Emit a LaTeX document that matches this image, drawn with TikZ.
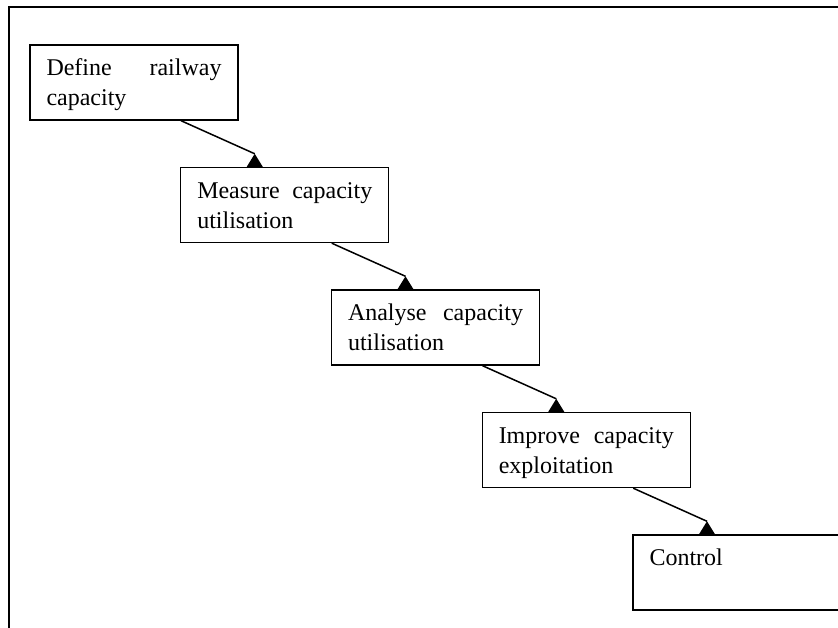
\documentclass[tikz,border=0pt]{standalone}
\usepackage{fontspec}
\setmainfont{Liberation Serif}
\usepackage{tikz}
\usetikzlibrary{calc}
\tikzset{
  stepbox/.style={draw,line width=1.4pt,text width=175pt,inner xsep=16.5pt,inner ysep=0pt,
    text height=31pt,text depth=44pt,align=justify,
    font=\fontsize{24}{30}\selectfont,
    execute at begin node={\hyphenpenalty=10000\tolerance=10000}},
  link/.style={line width=1.5pt},
  frameline/.style={line width=1.4pt}
}
\begin{document}
\begin{tikzpicture}[x=1pt,y=1pt]
\useasboundingbox (0,0) rectangle (838,628);
%frame
\draw[frameline] (9,0)--(9,621)--(838,621);
%steps
\foreach \n/\t [count=\i from 0] in {def/Define railway capacity,meas/Measure capacity utilisation,ana/Analyse capacity utilisation,imp/Improve capacity exploitation,ctrl/Control}{
\node[stepbox] (\n) at ({134+150.75*\i},{545.5-122.5*\i}) {\t};
}
%arrows
\foreach \a/\b in {def/meas,meas/ana,ana/imp,imp/ctrl}{
\coordinate (\b-tip) at ([xshift=-30pt,yshift=13pt]\b.north);
\draw[link] ([xshift=47pt]\a.south)--(\b-tip);
\fill (\b-tip)--([xshift=-38pt]\b.north)--([xshift=-22pt]\b.north)--cycle;
}
\end{tikzpicture}
\end{document}
